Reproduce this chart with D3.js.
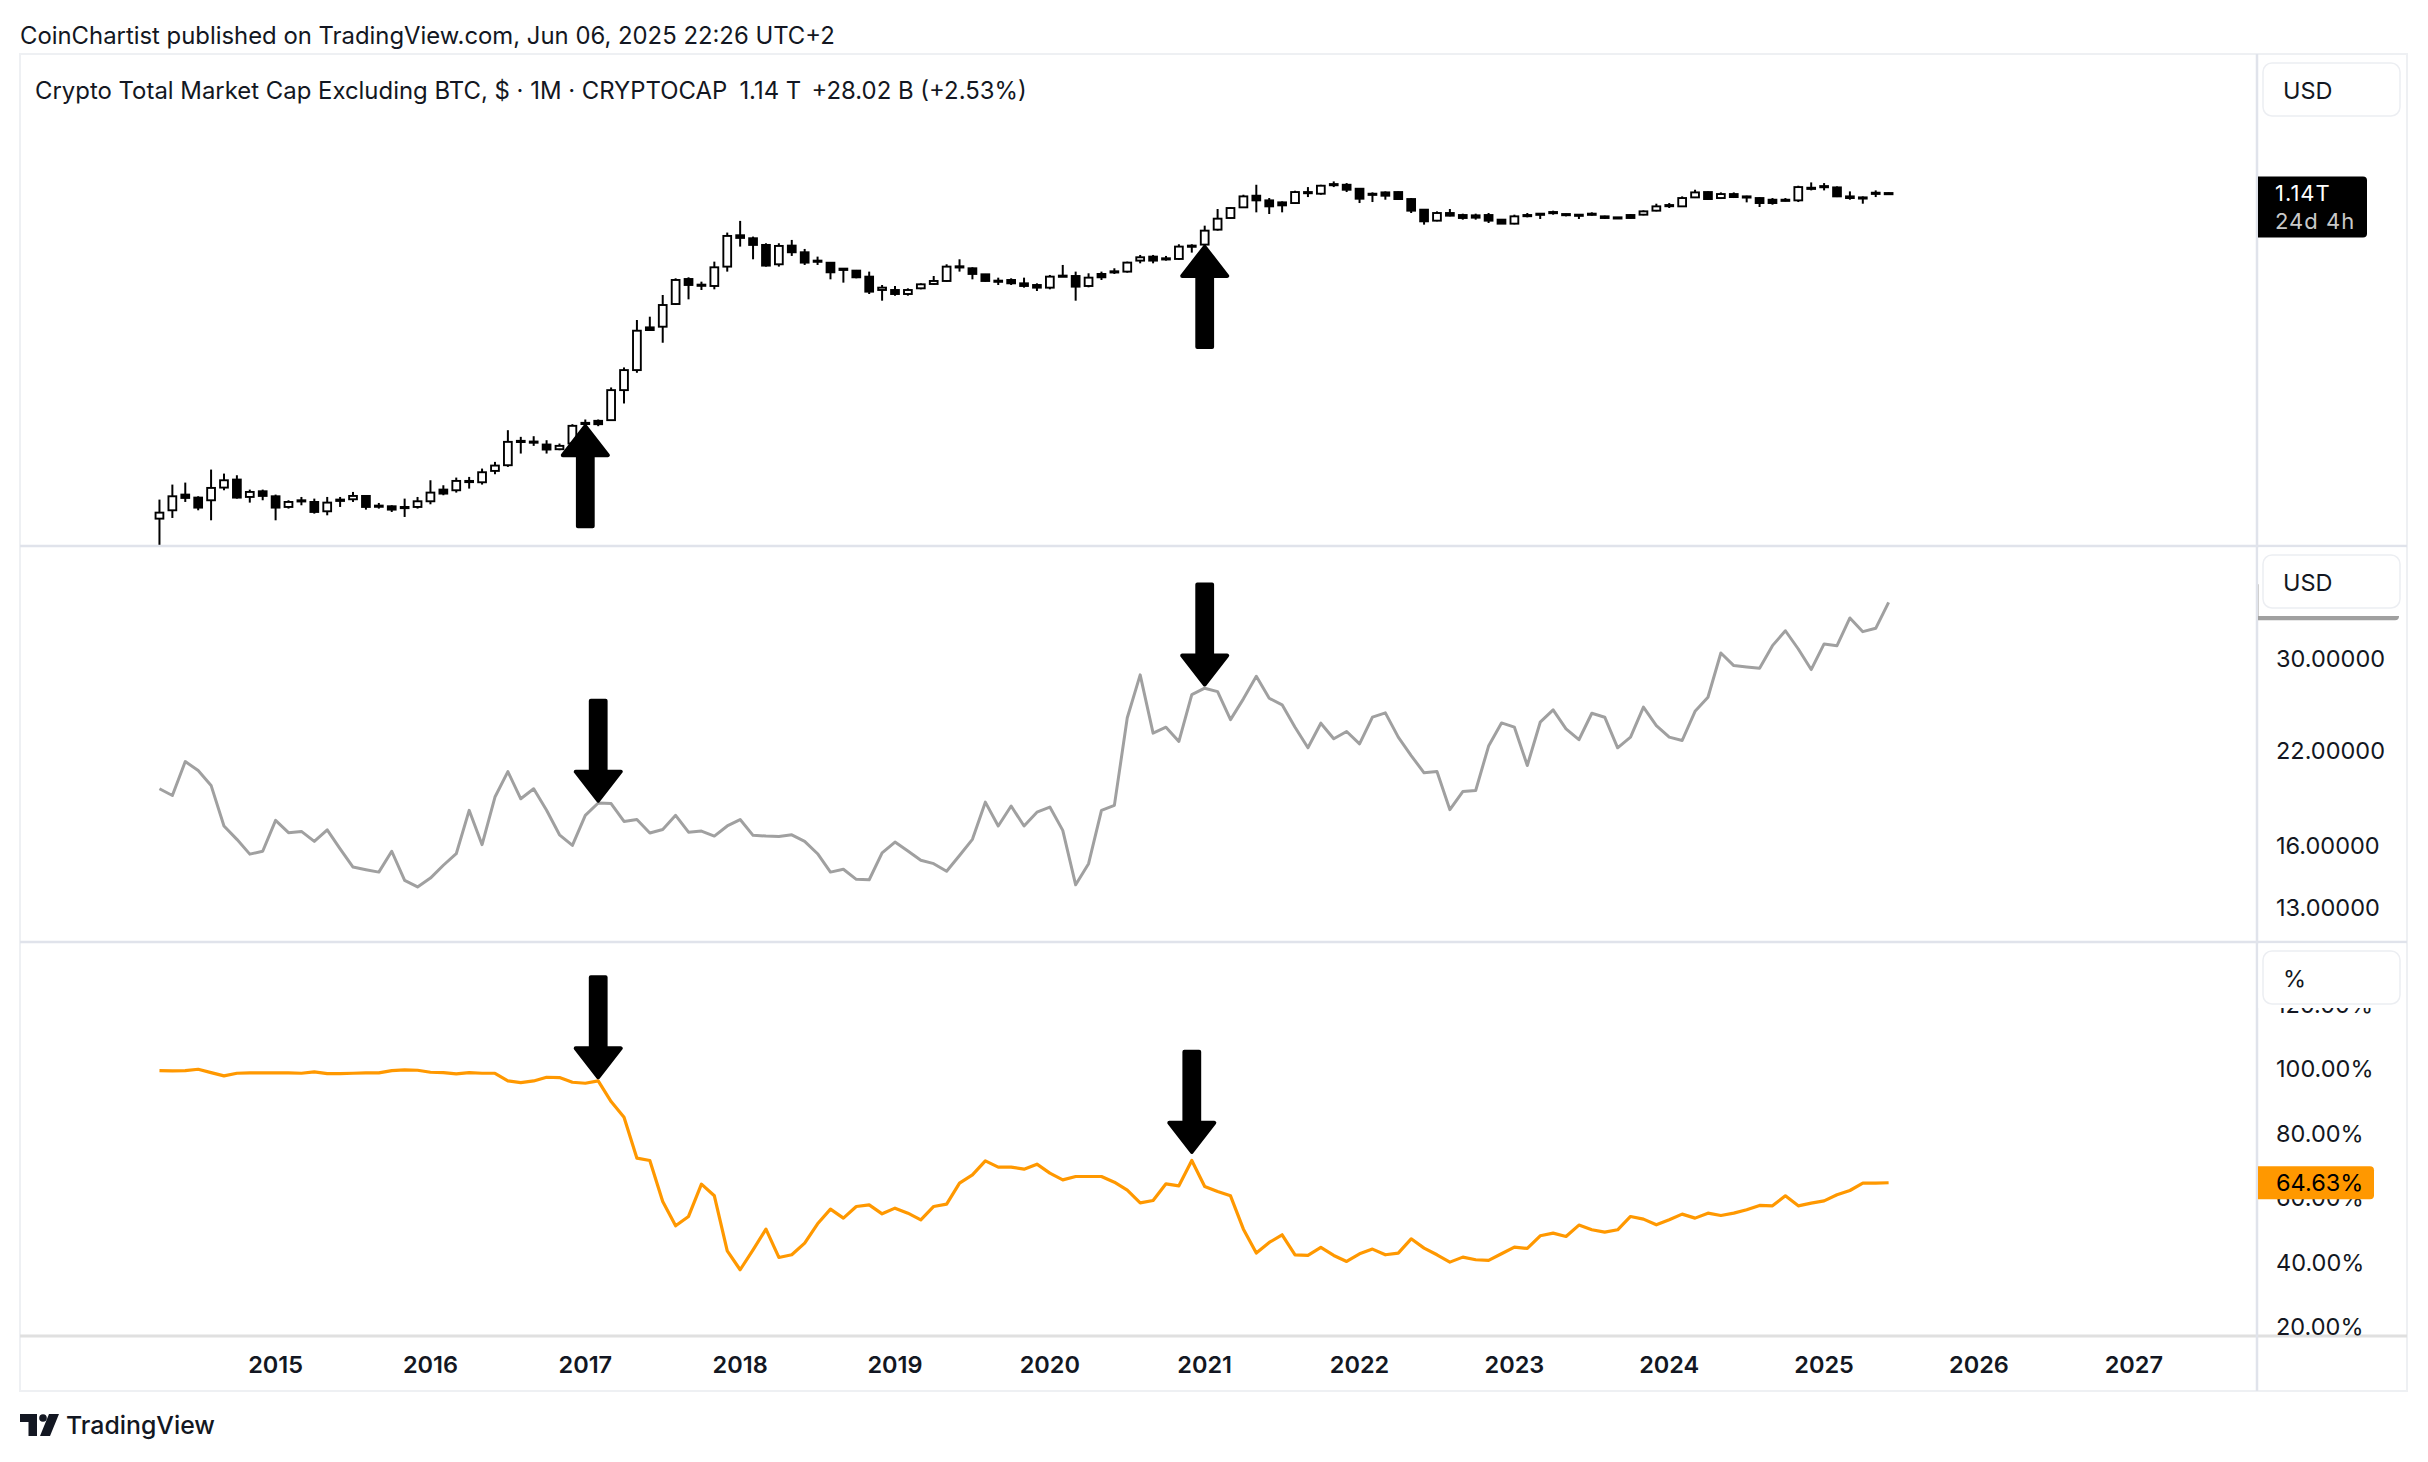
<!DOCTYPE html>
<html><head><meta charset="utf-8">
<script src="https://cdn.jsdelivr.net/npm/d3@7/dist/d3.min.js"></script>
<style>
html,body{margin:0;padding:0;background:#fff;overflow:hidden}
svg{display:block}
text{font-family:Inter,"Noto Sans",sans-serif;}
</style></head>
<body>
<svg id="chart" width="2428" height="1462"></svg>
<script>
// ================= DATA =================
// Monthly bars, first bar = April 2014, last = June 2025 (135 bars)
const firstBar = {year: 2014, month: 4};

// Crypto Total Market Cap Excluding BTC (billions USD), monthly OHLC
const openB = [0.1657,0.2078,0.3182,0.2932,0.2727,0.3848,0.4783,0.2985,0.3482,0.3040,0.2275,0.2727,0.2606,0.2022,0.2678,0.2802,0.3068,0.2360,0.2317,0.2275,0.2275,0.2654,0.3644,0.3578,0.4529,0.4446,0.6050,0.7060,1.343,1.319,1.238,1.090,1.272,2.190,2.355,2.399,5.420,9.333,29.75,30.30,56.10,110.6,93.15,91.48,154.7,362.5,334.1,278.8,164.8,273.7,228.4,182.1,172,146.5,138.8,117.9,82.06,82.06,73.58,85.86,96.58,104.8,156.1,147.9,125.6,105.8,107.7,98.35,93.99,87.44,121.2,120.0,91.48,126.8,133.8,135.1,182.1,203.0,190.5,190.5,273.7,281.2,422.1,579.0,772.9,1060,934.1,885.0,869.0,1171,1119,1454,1427,1281,1099,1160,1171,968.5,725.6,538.6,662.9,627.9,622.3,627.9,553.4,496.5,616.6,651.1,668.9,644.9,633.6,639.3,605.6,589.5,627.9,633.6,706.3,808.5,794.0,1013,1171,995.2,1109,1041,995.2,951.0,951.0,934.1,1293,1353,1328,1041,1013,1150,1112];
const highB = [0.2778,0.4175,0.4407,0.3040,0.6274,0.5628,0.5379,0.3644,0.3644,0.3182,0.2727,0.2985,0.2853,0.2985,0.2985,0.3420,0.3125,0.2536,0.2381,0.2853,0.2985,0.4694,0.4100,0.5049,0.5142,0.6447,0.7729,1.827,1.525,1.552,1.392,1.272,2.150,2.442,2.442,5.827,10.03,36.32,39.76,71.63,112.7,115.8,102.9,177.2,389.8,535.2,349.6,291.7,291.7,319.3,250.0,203.0,175,147.9,141.3,135.1,93.99,91.48,85.86,98.35,120.0,164.8,188.8,151.9,126.8,114.7,112.7,114.7,98.35,123.4,161.9,135.1,129.1,135.1,147.9,177.2,212.4,212.4,206.8,283.9,283.9,470.3,738.8,779.9,1089,1427,995.2,909.2,1214,1340,1427,1563,1494,1305,1160,1192,1192,995.2,738.8,693.4,738.8,651.1,651.1,662.9,563.4,633.6,662.9,662.9,706.3,651.1,644.9,675.0,616.6,594.9,644.9,712.6,853.5,869.0,1041,1247,1192,1160,1160,1060,1013,995.2,995.2,1390,1521,1494,1365,1192,1041,1225,1160];
const lowB = [0.0767,0.1688,0.2606,0.2078,0.1584,0.3578,0.2853,0.2560,0.2727,0.1584,0.2175,0.2381,0.1898,0.1814,0.2275,0.2606,0.2116,0.2175,0.1986,0.1734,0.2175,0.2446,0.3125,0.3359,0.3745,0.4175,0.5528,0.6749,0.9694,1.194,0.9694,1.061,1.249,2.001,2.037,2.355,3.773,8.680,27.18,19.61,54.60,63.68,82.06,83.56,135.1,266.4,188.8,154.7,154.7,206.8,161.9,161.9,109.6,100.2,112.7,73.58,61.40,70.37,70.37,83.56,93.99,102.9,135.1,109.6,102.9,93.99,93.99,87.44,79.86,83.56,117.9,61.40,88.22,107.7,126.8,131.4,169.3,169.3,182.1,185.4,226.3,268.8,410.8,568.6,759.0,675.0,644.9,675.0,853.5,1022,1089,1340,1171,869.0,893.0,951.0,951.0,662.9,483.3,529.0,605.6,553.4,553.4,505.6,492.0,487.6,589.5,563.4,633.6,605.6,563.4,616.6,563.4,563.4,568.6,622.3,693.4,759.0,779.9,995.2,951.0,968.5,995.2,885.0,779.9,830.6,909.2,893.0,1225,1225,1022,951.0,853.5,1022,1105];
const closeB = [0.1950,0.3040,0.2905,0.2235,0.3814,0.4694,0.2932,0.3420,0.3068,0.2235,0.2606,0.2654,0.1986,0.2560,0.2778,0.3068,0.2275,0.2317,0.2116,0.2235,0.2654,0.3359,0.3269,0.4611,0.4611,0.5836,0.6995,1.331,1.368,1.343,1.081,1.194,2.056,2.230,2.150,5.420,9.333,27.18,27.67,54.60,107.7,93.99,94.87,151.9,355.9,337.1,278.8,159.0,271.3,228.4,172.5,178.8,132.6,141.3,115.8,78.43,87.44,73.58,82.06,95.72,104.8,154.7,153.3,126.8,104.8,103.8,98.35,91.48,87.44,117.9,118.9,89.85,114.7,115.8,136.3,172.5,199.4,182.1,194.0,266.4,268.9,410.8,568.6,759.0,1041,934.1,794.0,815.8,1171,1150,1390,1441,1247,977.2,1119,1060,968.5,706.3,529.0,662.9,616.6,579.0,584.2,538.6,496.5,605.6,627.9,644.9,681.2,639.3,627.9,651.1,579.0,584.2,579.0,693.4,794.0,823.2,995.2,1160,968.5,1109,1022,1031,869.0,869.0,942.6,1340,1316,1377,1041,995.2,1004,1112,1140];

// Middle pane (gray line, USD, log scale)
const grayLine = [19.38,18.95,21.23,20.60,19.60,17.11,16.36,15.57,15.72,17.43,16.73,16.80,16.25,16.89,15.85,14.91,14.78,14.66,15.72,14.26,13.95,14.37,15.00,15.59,18.03,16.07,18.85,20.53,18.74,19.38,18.03,16.61,16.03,17.73,18.48,18.44,17.37,17.48,16.71,16.91,17.73,16.76,16.82,16.54,17.11,17.48,16.58,16.54,16.52,16.61,16.25,15.59,14.66,14.80,14.31,14.29,15.64,16.21,15.73,15.25,15.08,14.70,15.50,16.36,18.53,17.11,18.29,17.11,17.92,18.23,16.86,14.05,15.08,18.03,18.33,24.58,28.38,23.35,23.82,22.71,26.57,27.14,26.83,24.43,26.19,28.25,26.24,25.67,23.82,22.23,24.14,22.91,23.48,22.53,24.63,24.99,23.04,21.66,20.44,20.53,18.07,19.20,19.27,22.36,24.16,23.82,20.95,24.22,25.24,23.69,22.84,24.96,24.63,22.23,23.04,25.47,23.95,23.04,22.78,25.12,26.33,30.54,29.28,29.15,29.02,31.30,32.90,30.95,28.89,31.48,31.30,34.34,32.80,33.17,36.19];

// Bottom pane (orange line, %)
const orangeLine = [99.45,99.35,99.45,99.87,98.83,97.80,98.62,98.73,98.73,98.73,98.73,98.62,99.04,98.52,98.52,98.62,98.73,98.73,99.45,99.66,99.55,98.93,98.83,98.42,98.83,98.62,98.62,96.24,95.73,96.24,97.38,97.28,95.83,95.52,96.24,89.83,84.97,72.25,71.53,58.81,51.26,54.16,64.19,60.57,43.50,37.61,43.81,50.22,41.43,42.26,45.88,51.88,56.43,53.64,57.26,57.77,54.98,56.74,55.19,53.12,57.26,57.98,64.50,67.08,71.42,69.46,69.46,68.84,70.39,67.60,65.53,66.56,66.56,66.56,64.80,62.32,58.39,59.12,64.29,63.67,71.53,63.46,61.91,60.57,50.22,42.78,46.08,48.47,42.26,42.05,44.54,42.05,40.19,42.57,44.02,42.26,42.78,47.22,44.33,42.26,39.98,41.53,40.71,40.50,42.57,44.64,44.23,48.16,48.98,47.95,51.47,50.02,49.29,50.02,54.15,53.33,51.57,53.12,54.88,53.64,55.19,54.46,55.19,56.22,57.57,57.46,60.57,57.46,58.29,59.01,60.88,62.22,64.50,64.50,64.63];

const yearLabels = [2015,2016,2017,2018,2019,2020,2021,2022,2023,2024,2025,2026,2027];
const midTicks = [13,16,22,30];
const botTicks = [20,40,60,80,100,120];

// arrow annotations: bar index, value at arrow tip, direction
const arrows = [
  {pane:"top", i:33, v:2.147, dir:"up"},
  {pane:"top", i:81, v:279, dir:"up"},
  {pane:"mid", i:34, v:18.5, dir:"down"},
  {pane:"mid", i:81, v:27.3, dir:"down"},
  {pane:"bot", i:34, v:96.76, dir:"down"},
  {pane:"bot", i:80, v:73.6, dir:"down"}
];

const headerText = "CoinChartist published on TradingView.com, Jun 06, 2025 22:26 UTC+2";
const titleMain = "Crypto Total Market Cap Excluding BTC, $ · 1M · CRYPTOCAP";
const titleLast = "1.14 T";
const titleChange = "+28.02 B (+2.53%)";
const lastLabel = ["1.14T", "24d 4h"];

// ================= LAYOUT =================
const TXT = "#131722", SEP = "#e0e3eb";
const frame = {l:20, r:2407, t:54, b:1391};
const axisX = 2257;
const P = {top:[54,546], mid:[546,942], bot:[942,1336]};

const svg = d3.select("#chart");
svg.append("rect").attr("width",2428).attr("height",1462).attr("fill","#fff");

const monthOffset = (firstBar.year-2015)*12 + (firstBar.month-1);
const x = d3.scaleLinear().domain([0,144]).range([275.6, 2133.8]);
const xi = i => x(i + monthOffset);

const yTop = d3.scaleLog().domain([0.07885, 49610]).range([P.top[1], P.top[0]]);
const yMid = d3.scaleLog().domain([11.60, 43.70]).range([P.mid[1], P.mid[0]]);
const yBot = d3.scaleLinear().domain([17.04, 139.38]).range([P.bot[1], P.bot[0]]);
const Y = {top:yTop, mid:yMid, bot:yBot};

const defs = svg.append("defs");
Object.entries(P).forEach(([k,[a,b]])=>{
  defs.append("clipPath").attr("id","clip-"+k).append("rect")
    .attr("x",frame.l).attr("y",a).attr("width",axisX-frame.l).attr("height",b-a);
});

// ---- candles ----
const gTop = svg.append("g").attr("clip-path","url(#clip-top)");
const bars = openB.map((o,i)=>({i,o,h:highB[i],l:lowB[i],c:closeB[i]}));
gTop.selectAll("line.wick").data(bars).join("line").attr("class","wick")
  .attr("x1",d=>xi(d.i)).attr("x2",d=>xi(d.i))
  .attr("y1",d=>yTop(d.h)).attr("y2",d=>yTop(d.l))
  .attr("stroke","#000").attr("stroke-width",2);
gTop.selectAll("rect.body").data(bars).join("rect").attr("class","body")
  .attr("x",d=>xi(d.i)-3.9).attr("width",7.8)
  .attr("y",d=>Math.min(yTop(d.o),yTop(d.c)))
  .attr("height",d=>Math.max(Math.abs(yTop(d.o)-yTop(d.c)),1.2))
  .attr("fill",d=>d.c>=d.o?"#fff":"#000")
  .attr("stroke","#000").attr("stroke-width",1.9);

// ---- middle line ----
const gMid = svg.append("g").attr("clip-path","url(#clip-mid)");
gMid.append("path").datum(grayLine)
  .attr("d", d3.line().x((d,i)=>xi(i)).y(d=>yMid(d)))
  .attr("fill","none").attr("stroke","#a0a0a0").attr("stroke-width",3)
  .attr("stroke-linejoin","round");

// ---- bottom line ----
const gBot = svg.append("g").attr("clip-path","url(#clip-bot)");
gBot.append("path").datum(orangeLine)
  .attr("d", d3.line().x((d,i)=>xi(i)).y(d=>yBot(d)))
  .attr("fill","none").attr("stroke","#ff9800").attr("stroke-width",3.2)
  .attr("stroke-linejoin","round");

// ---- separators & frame ----
const sep = svg.append("g");
sep.append("rect").attr("x",frame.l).attr("y",frame.t).attr("width",frame.r-frame.l).attr("height",frame.b-frame.t)
  .attr("fill","none").attr("stroke","#eef0f3").attr("stroke-width",2);
[P.top[1], P.mid[1]].forEach(yv=>{
  sep.append("line").attr("x1",frame.l).attr("x2",frame.r).attr("y1",yv).attr("y2",yv)
    .attr("stroke",SEP).attr("stroke-width",2.5);
});
sep.append("line").attr("x1",frame.l).attr("x2",frame.r).attr("y1",P.bot[1]).attr("y2",P.bot[1])
  .attr("stroke","#e0e0e0").attr("stroke-width",3);
sep.append("line").attr("x1",axisX).attr("x2",axisX).attr("y1",frame.t).attr("y2",frame.b)
  .attr("stroke",SEP).attr("stroke-width",2.5);

// ---- price axis: tick labels ----
const ax = svg.append("g");
const tickX = 2276;
ax.selectAll("text.mt").data(midTicks).join("text").attr("class","mt")
  .attr("x",tickX).attr("y",d=>yMid(d)).attr("dominant-baseline","central")
  .attr("font-size",23.5).attr("fill",TXT).text(d=>d.toFixed(5));
ax.selectAll("text.bt").data(botTicks).join("text").attr("class","bt")
  .attr("x",tickX).attr("y",d=>yBot(d)).attr("dominant-baseline","central")
  .attr("font-size",23.5).attr("fill",TXT).text(d=>d.toFixed(2)+"%");

// last value labels
const lastGray = grayLine[grayLine.length-1];
ax.append("path").attr("d", roundRight(axisX+1, yMid(lastGray)-18, 141, 36, 4)).attr("fill","#a0a0a0");
const lastDom = orangeLine[orangeLine.length-1];
ax.append("path").attr("d", roundRight(axisX+1, yBot(lastDom)-16.5, 116, 33, 4)).attr("fill","#ff9800");
ax.append("text").attr("x",tickX).attr("y",yBot(lastDom)).attr("dominant-baseline","central")
  .attr("font-size",23.5).attr("fill","#000").text(lastDom.toFixed(2)+"%");

const lastClose = closeB[closeB.length-1];
ax.append("path").attr("d", roundRight(axisX+1, yTop(lastClose)-16.5, 109, 61, 4)).attr("fill","#000");
ax.append("text").attr("x",tickX-1).attr("y",yTop(lastClose)).attr("dominant-baseline","central")
  .attr("font-size",22).attr("fill","#fff").attr("letter-spacing",1).text(lastLabel[0]);
ax.append("text").attr("x",tickX-1).attr("y",yTop(lastClose)+28).attr("dominant-baseline","central")
  .attr("font-size",22).attr("fill","#c9c9c9").attr("letter-spacing",1).text(lastLabel[1]);

function roundRight(x0,y0,w,h,r){
  return `M${x0},${y0}H${x0+w-r}Q${x0+w},${y0} ${x0+w},${y0+r}V${y0+h-r}Q${x0+w},${y0+h} ${x0+w-r},${y0+h}H${x0}Z`;
}

// legend covers + unit boxes
const units = [["top","USD",62],["mid","USD",70],["bot","%",66]];
units.forEach(([k,label,cover])=>{
  const top = P[k][0];
  if(k!=="top") ax.append("rect").attr("x",axisX+1.5).attr("y",top+1.5).attr("width",frame.r-axisX-2.5).attr("height",cover-1.5).attr("fill","#fff");
  ax.append("rect").attr("x",2263).attr("y",top+9).attr("width",137).attr("height",53).attr("rx",9)
    .attr("fill","#fff").attr("stroke","#eceef2").attr("stroke-width",1.5);
  ax.append("text").attr("x",2283).attr("y",top+36).attr("dominant-baseline","central")
    .attr("font-size",23.5).attr("fill",TXT).text(label);
});

// ---- time axis ----
svg.append("g").selectAll("text").data(yearLabels).join("text")
  .attr("x",d=>x((d-2015)*12)).attr("y",1364).attr("text-anchor","middle").attr("dominant-baseline","central")
  .attr("font-size",23.5).attr("font-weight",600).attr("fill",TXT).text(d=>d);

// ---- arrows ----
function arrowPath(cx, tip, dir){
  const s = dir==="up"?1:-1, L=100, hl=29, hw=22.5, sw=7.4;
  const t = tip + s*2;
  const pts=[[cx,t],[cx+hw,t+s*hl],[cx+sw,t+s*hl],[cx+sw,t+s*L],[cx-sw,t+s*L],[cx-sw,t+s*hl],[cx-hw,t+s*hl]];
  return "M"+pts.map(p=>p.join(",")).join("L")+"Z";
}
svg.append("g").selectAll("path").data(arrows).join("path")
  .attr("d",d=>arrowPath(xi(d.i), Y[d.pane](d.v), d.dir))
  .attr("fill","#000").attr("stroke","#000").attr("stroke-width",4).attr("stroke-linejoin","round");

// ---- header / title ----
function fitWidth(sel, target){
  const w = sel.node().getComputedTextLength();
  const fs = parseFloat(sel.attr("font-size"));
  sel.attr("font-size", fs*target/w);
}
const hdr = svg.append("text").attr("x",20).attr("y",35).attr("dominant-baseline","central")
  .attr("font-size",21).attr("fill",TXT).text(headerText);
fitWidth(hdr, 815);

const ttl = svg.append("text").attr("x",35).attr("y",90).attr("dominant-baseline","central")
  .attr("font-size",21).attr("fill",TXT);
ttl.append("tspan").text(titleMain);
ttl.append("tspan").attr("dx",12).text(titleLast);
ttl.append("tspan").attr("dx",12).text(titleChange);
fitWidth(ttl, 968);

// ---- TradingView logo ----
const logo = svg.append("g").attr("fill","#131722");
logo.append("path").attr("d","M20,1414H37V1436H28.5V1422H20Z");
logo.append("circle").attr("cx",43).attr("cy",1418).attr("r",3.8);
logo.append("path").attr("d","M49,1414H59L50,1436H40Z");
const tv = logo.append("text").attr("x",66).attr("y",1425).attr("dominant-baseline","central")
  .attr("font-size",25).attr("font-weight",500).text("TradingView");
fitWidth(tv, 149);
</script>
</body></html>
